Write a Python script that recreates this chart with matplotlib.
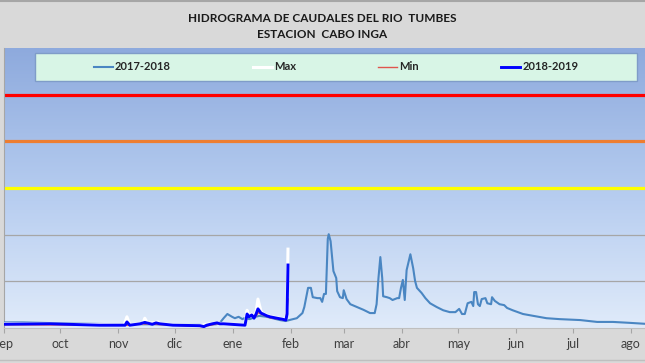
import numpy as np
import matplotlib
matplotlib.use("Agg")
import matplotlib.pyplot as plt
from matplotlib.colors import LinearSegmentedColormap
from matplotlib.patches import Rectangle
from matplotlib.lines import Line2D

plt.rcParams['font.family'] = ['Lato', 'DejaVu Sans']

# ---------------------------------------------------------------
# Data - x is day since 1 Sep
# ---------------------------------------------------------------
month_labels = ['sep', 'oct', 'nov', 'dic', 'ene', 'feb',
                'mar', 'abr', 'may', 'jun', 'jul', 'ago']
month_starts = [0, 30, 61, 91, 122, 153, 181, 212, 242, 273, 303, 334]

# 2017-2018 full hydrological year
days_1718 = [0, 10, 20, 30, 45, 61, 80, 91, 105, 113, 115, 117, 119, 121.5, 123,
             125, 127, 128, 131, 134, 136, 140, 143, 147, 150, 152, 156, 159,
             160, 162, 163.5, 164.5, 167, 168.5, 169.5, 170.5, 171.5, 172.5, 173,
             174, 175.5, 177, 177.5, 179, 180.5, 181, 182.5, 184.5, 188, 191.5,
             195, 197.5, 198.5, 199.5, 200.5, 201.5, 202, 204, 205.5, 207, 209.5,
             210.5, 211.5, 212.5, 213.5, 214.5, 216.5, 218, 219, 220, 222.5,
             224.5, 227, 230.5, 234, 237.5, 240.5, 242.5, 244, 245.5, 247, 249,
             250, 250.5, 251.5, 252.5, 253.5, 254.5, 256.5, 257.5, 259.5, 260,
             261.5, 264, 266.5, 268, 271, 276.5, 282, 289, 296, 307, 316, 324.5,
             333.5, 341.5]
q_1718 = [12, 12, 11, 10, 9, 8, 8, 7, 7, 8, 11, 21, 30, 24, 21,
          24, 19, 21, 19, 24, 26, 24, 21, 17, 15, 17, 21, 32,
          45, 86, 86, 66, 64, 64, 56, 73, 73, 191, 201,
          186, 122, 107, 79, 66, 64, 81, 62, 51, 45, 39,
          32, 32, 51, 107, 152, 107, 68, 66, 64, 60, 64,
          64, 86, 103, 60, 124, 158, 128, 101, 86, 75,
          64, 53, 45, 38, 34, 34, 41, 30, 30, 53, 56,
          47, 77, 77, 51, 47, 62, 64, 53, 51, 66,
          58, 51, 49, 43, 38, 30, 26, 21, 19, 17, 13, 13,
          11, 9]

# 2018-2019 (current year, up to early February)
days_1819 = [0, 24.5, 51, 64.5, 65.5, 67, 72.5, 75, 78, 79, 81, 83, 90, 104.4,
             106.5, 108, 111, 113.5, 115, 117, 128.4, 129.5, 130.5, 132, 133.2,
             134.3, 135.3, 136.9, 138, 140.1, 141.7, 145.4, 148.1, 150.2, 150.8,
             151.3]
q_1819 = [8, 9, 6, 6, 13, 6, 9, 12, 9, 8, 11, 9, 6, 5,
          3, 6, 9, 11, 9, 9, 6, 30, 24, 28, 21,
          30, 41, 32, 30, 26, 24, 21, 19, 17, 30,
          135]

# Max and Min envelopes
days_max = [0, 64, 65.5, 67, 74, 75, 76.5, 81, 82, 83, 90, 104, 113.5, 117,
            128.4, 129.5, 130.5, 132, 133.2, 134.3, 135.3, 136.9, 138, 141.7,
            148, 150.2, 150.8, 151.3]
q_max = [9, 7, 24, 7, 10, 21, 10, 12, 13, 9, 7, 6, 11, 9,
         7, 38, 25, 30, 24, 35, 62, 36, 31, 25,
         20, 18, 40, 169]

days_min = [0, 64, 66, 75, 90, 106.5, 113.5, 128.4, 129.5, 132, 134.3, 135.3,
            138, 141.7, 148, 150.2, 151.3]
q_min = [7, 6, 6, 9, 6, 3, 9, 6, 27, 26, 25, 33,
         28, 22, 18, 16, 62]

# Alert thresholds (yellow / orange / red)
thresholds = [300, 400, 500]
threshold_colors = ['#ffff00', '#ed7d31', '#ff0000']

x_max = 341.5
y_max = 600

# ---------------------------------------------------------------
# Figure
# ---------------------------------------------------------------
fig = plt.figure(figsize=(6.45, 3.63), dpi=100, facecolor='#d9d9d9')
ax = fig.add_axes([4 / 645, 1 - 328 / 363, 1 - 4 / 645, 280 / 363])

# gradient background of the plot area
grad_cmap = LinearSegmentedColormap.from_list('bg', ['#e0ebfa', '#b4cbef', '#8eaadd'])
grad = np.linspace(0, 1, 256).reshape(-1, 1)
ax.imshow(grad, extent=[0, x_max, 0, y_max], origin='lower', aspect='auto',
          cmap=grad_cmap, zorder=0)

# gridlines
for g in [100, 200]:
    ax.axhline(g, color='#a6a6a6', linewidth=0.9, zorder=1)

# threshold lines
for t, c in zip(thresholds, threshold_colors):
    ax.axhline(t, color=c, linewidth=2.3, zorder=2)

l1, = ax.plot(days_1718, q_1718, color='#4a86c2', linewidth=1.5, zorder=3)
l2, = ax.plot(days_max, q_max, color='white', linewidth=2.2, zorder=4)
l3, = ax.plot(days_min, q_min, color='#e0554d', linewidth=1.0, zorder=5)
l4, = ax.plot(days_1819, q_1819, color='#0000ff', linewidth=2.1, zorder=6)

ax.set_xlim(0, x_max)
ax.set_ylim(0, y_max)
ax.set_xticks(month_starts)
ax.set_xticklabels(month_labels)
ax.set_yticks([])
ax.tick_params(axis='x', direction='out', length=3.5, width=0.8, color='#a6a6a6',
               labelsize=9, labelcolor='#404040', pad=4)
for side in ['top', 'right']:
    ax.spines[side].set_visible(False)
ax.spines['left'].set_color('#a6a6a6')
ax.spines['bottom'].set_color('#bfbfbf')

# legend box
leg_box = (35 / 645, 1 - 81 / 363, 602 / 645, 28 / 363)
fig.add_artist(Rectangle(leg_box[:2], leg_box[2], leg_box[3], transform=fig.transFigure,
                         facecolor='#d8f5e6', edgecolor='#7f9cc8', linewidth=1.0, zorder=10))
leg = fig.legend([l1, l2, l3, l4], ['2017-2018', 'Max', 'Min', '2018-2019'],
                 loc='center', bbox_to_anchor=leg_box, ncol=4, frameon=False,
                 prop={'size': 8, 'weight': 'bold'}, handlelength=1.7,
                 handletextpad=0.2, columnspacing=7.4)
leg.set_zorder(11)
for txt in leg.get_texts():
    txt.set_color('#262626')

# titles
fig.text(0.5, 1 - 18 / 363, 'HIDROGRAMA DE CAUDALES DEL RIO  TUMBES', ha='center', va='center',
         fontsize=8.5, fontweight='bold', color='#1a1a1a')
fig.text(0.5, 1 - 35 / 363, 'ESTACION  CABO INGA', ha='center', va='center',
         fontsize=8.5, fontweight='bold', color='#1a1a1a')

# chart border lines
fig.add_artist(Line2D([0, 1], [1 - 0.5 / 363, 1 - 0.5 / 363], transform=fig.transFigure,
                      color='#a6a6a6', linewidth=1.5))
fig.add_artist(Line2D([0, 1], [1 - 360 / 363, 1 - 360 / 363], transform=fig.transFigure,
                      color='#bfbfbf', linewidth=1.0))

fig.savefig('out.png', dpi=100, facecolor=fig.get_facecolor())
